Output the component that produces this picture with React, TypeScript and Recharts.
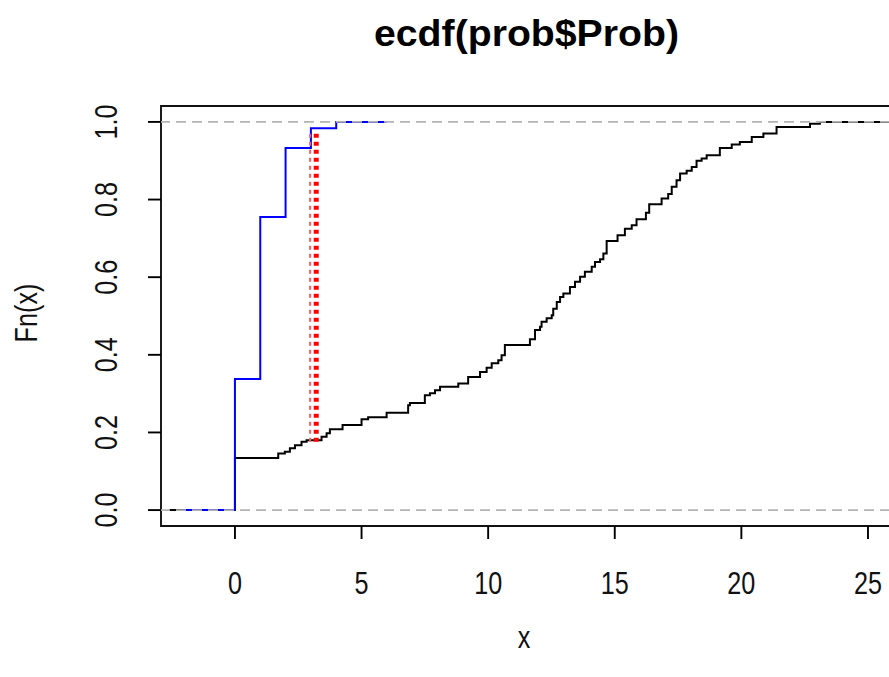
import { ComposedChart, Line, XAxis, YAxis, ReferenceArea } from 'recharts'

// ECDF of prob$Prob (black): jump positions and levels
const blackX = [-2.6, 0, 1.71, 1.97, 2.17, 2.37, 2.63, 2.83, 3.42, 3.62, 3.75, 4.25, 5.0, 5.26, 5.99, 6.84, 6.91,
  7.5, 7.7, 7.9, 8.1, 8.82, 9.21, 9.68, 9.94, 10.14, 10.4, 10.53, 10.66, 11.65, 11.85, 12.05, 12.11, 12.31,
  12.51, 12.57, 12.71, 12.84, 12.97, 13.23, 13.43, 13.63, 13.82, 14.09, 14.22, 14.42, 14.55, 14.68, 15.11,
  15.4, 15.67, 15.86, 16.23, 16.36, 16.85, 17.11, 17.25, 17.44, 17.58, 17.84, 18.04, 18.23, 18.43, 18.63,
  19.15, 19.62, 19.94, 20.41, 20.87, 21.39, 22.71, 23.1, 26.02]
const blackY = [0, 0.134, 0.146, 0.15, 0.159, 0.167, 0.176, 0.18, 0.189, 0.198, 0.208, 0.219, 0.234, 0.239, 0.251,
  0.27, 0.276, 0.296, 0.301, 0.309, 0.318, 0.326, 0.343, 0.356, 0.367, 0.378, 0.386, 0.399, 0.425, 0.44, 0.464,
  0.472, 0.485, 0.494, 0.502, 0.519, 0.536, 0.549, 0.558, 0.575, 0.588, 0.601, 0.614, 0.627, 0.639, 0.646,
  0.661, 0.693, 0.708, 0.725, 0.734, 0.749, 0.766, 0.788, 0.803, 0.814, 0.833, 0.85, 0.867, 0.874, 0.884, 0.9,
  0.906, 0.914, 0.933, 0.942, 0.948, 0.961, 0.97, 0.987, 0.995, 1, 1]

// second ECDF (blue)
const blueX = [-2.1, 0, 1, 2, 3, 4, 6]
const blueY = [0, 0.338, 0.755, 0.933, 0.984, 1, 1]

// red dotted max-distance marker
const ksX = [2.97, 3.21]
const ksY = [0.176, 0.978]

const xTicks = [0, 5, 10, 15, 20, 25]
const yTicks = [0, 0.2, 0.4, 0.6, 0.8, 1]
const xDomain = [-2.92, 26.02]
const yDomain = [-0.041, 1.041]
const refLevels = [0, 1]

const FONT = '"Liberation Sans", Arial, sans-serif'

const toPts = (xs: number[], ys: number[]) => xs.map((x, i) => ({ x, y: ys[i] }))
const blackData = toPts(blackX, blackY)
const blueData = toPts(blueX, blueY)

const XTick = ({ x, payload }: any) => (
  <text transform={`translate(${x},594) scale(0.84,1.03)`} textAnchor="middle" fontSize={30}
    fontFamily={FONT} fill="#111">{payload.value}</text>
)

const YTick = ({ y, payload }: any) => (
  <text transform={`translate(117,${y}) rotate(-90) scale(0.84,1.03)`} textAnchor="middle" fontSize={30}
    fontFamily={FONT} fill="#111">{Number(payload.value).toFixed(1)}</text>
)

export default function App() {
  return (
    <div style={{ position: 'relative', width: 889, height: 677, overflow: 'hidden', background: '#fff' }}>
      <style>{'body{margin:0}'}</style>
      <ComposedChart width={940} height={677} margin={{ top: 106, right: 46.2, left: 61, bottom: 0 }}>
        <XAxis type="number" dataKey="x" domain={xDomain} ticks={xTicks} allowDataOverflow
          axisLine={false} tickLine={{ stroke: '#000', strokeWidth: 1.9 }} tickSize={13} height={151}
          tick={XTick} interval={0} />
        <YAxis type="number" dataKey="y" domain={yDomain} ticks={yTicks} allowDataOverflow
          axisLine={false} tickLine={{ stroke: '#000', strokeWidth: 1.9 }} tickSize={13} width={100}
          tick={YTick} interval={0} />
        <ReferenceArea x1={xDomain[0]} x2={xDomain[1]} y1={yDomain[0]} y2={yDomain[1]}
          fill="none" stroke="#111" strokeWidth={1.9} ifOverflow="visible" />
        <Line data={blackData} dataKey="y" type="stepAfter" stroke="#000" strokeWidth={2}
          dot={false} activeDot={false} isAnimationActive={false} />
        <Line data={blueData} dataKey="y" type="stepAfter" stroke="#0000ff" strokeWidth={2}
          dot={false} activeDot={false} isAnimationActive={false} />
        <Line data={[{ x: ksX[0], y: ksY[0] }, { x: ksX[0], y: ksY[1] }]} dataKey="y" type="linear"
          stroke="#ff5a5a" strokeWidth={2} strokeDasharray="4 4" dot={false} activeDot={false}
          isAnimationActive={false} />
        <Line data={[{ x: ksX[1], y: ksY[0] }, { x: ksX[1], y: ksY[1] }]} dataKey="y" type="linear"
          stroke="#ff0000" strokeWidth={5} strokeDasharray="4 4" dot={false} activeDot={false}
          isAnimationActive={false} />
        {refLevels.map(v => (
          <Line key={v} data={[{ x: xDomain[0], y: v }, { x: xDomain[1], y: v }]} dataKey="y" type="linear"
            stroke="#b3b3b3" strokeWidth={1.8} strokeDasharray="10 6" strokeDashoffset={1}
            dot={false} activeDot={false} isAnimationActive={false} />
        ))}
      </ComposedChart>
      <svg width={889} height={677} style={{ position: 'absolute', left: 0, top: 0, pointerEvents: 'none' }}>
        <text x={526.5} y={46} textAnchor="middle" fontSize={36} fontWeight="bold" fontFamily={FONT}
          textLength={305} lengthAdjust="spacingAndGlyphs" fill="#000">ecdf(prob$Prob)</text>
        <text transform="translate(524,648) scale(0.84,1.03)" textAnchor="middle" fontSize={30}
          fontFamily={FONT} fill="#111">x</text>
        <text transform="translate(37,313) rotate(-90) scale(0.84,1.03)" textAnchor="middle" fontSize={30}
          fontFamily={FONT} fill="#111">Fn(x)</text>
      </svg>
    </div>
  )
}
